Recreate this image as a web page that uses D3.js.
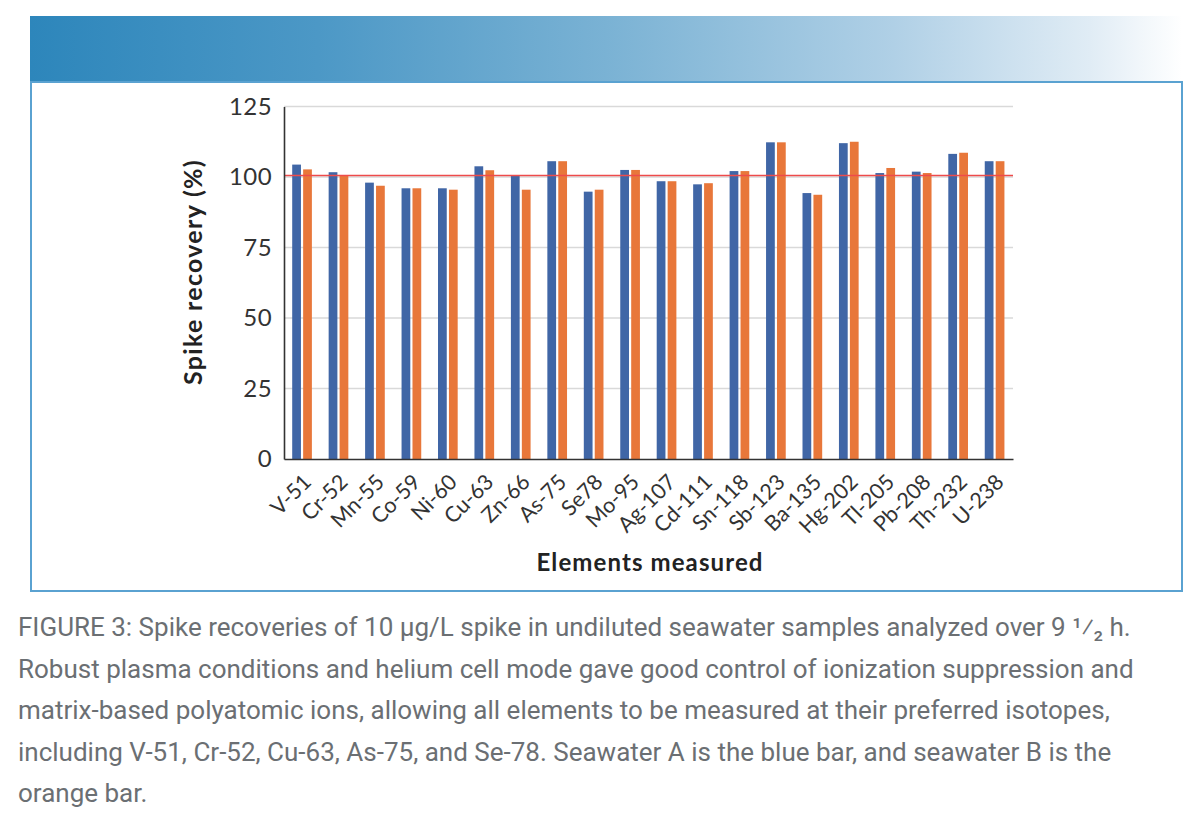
<!DOCTYPE html>
<html>
<head>
<meta charset="utf-8">
<script src="https://cdn.jsdelivr.net/npm/d3@7/dist/d3.min.js"></script>
<style>
  html, body { margin: 0; padding: 0; background: #ffffff; }
  svg { display: block; }
</style>
</head>
<body>
<svg id="chart" width="1200" height="823"></svg>
<script>
// ---------- data ----------
const categories = ["V-51","Cr-52","Mn-55","Co-59","Ni-60","Cu-63","Zn-66","As-75","Se78","Mo-95",
                    "Ag-107","Cd-111","Sn-118","Sb-123","Ba-135","Hg-202","Tl-205","Pb-208","Th-232","U-238"];
const seawaterA = [104.4,101.7,98.0,96.0,96.0,103.8,100.4,105.6,94.8,102.5,
                   98.5,97.4,102.1,112.3,94.3,112.0,101.4,101.9,108.2,105.6];
const seawaterB = [102.7,100.5,96.9,96.0,95.5,102.4,95.5,105.6,95.5,102.5,
                   98.5,97.8,102.1,112.3,93.7,112.5,103.2,101.4,108.6,105.6];
const seriesNames = ["Seawater A","Seawater B"];
const seriesColors = ["#4066a6","#e8773a"];
const yTicks = [0,25,50,75,100,125];
const referenceLine = 100;
const yTitle = "Spike recovery (%)";
const xTitle = "Elements measured";
const captionLines = [
  "FIGURE 3: Spike recoveries of 10 \u00b5g/L spike in undiluted seawater samples analyzed over 9 \u00b9\u2044\u2082 h.",
  "Robust plasma conditions and helium cell mode gave good control of ionization suppression and",
  "matrix-based polyatomic ions, allowing all elements to be measured at their preferred isotopes,",
  "including V-51, Cr-52, Cu-63, As-75, and Se-78. Seawater A is the blue bar, and seawater B is the",
  "orange bar."
];

// ---------- layout ----------
const svg = d3.select("#chart");
const plot = { left: 284, right: 1013, top: 106.5, bottom: 459 };
const chartFont = "Lato, 'Open Sans', sans-serif";

// header gradient band
const defs = svg.append("defs");
const grad = defs.append("linearGradient").attr("id","hdr").attr("x1","0").attr("x2","1").attr("y1","0").attr("y2","0");
grad.append("stop").attr("offset","0").attr("stop-color","#2d86bb");
grad.append("stop").attr("offset","0.25").attr("stop-color","#4c98c6");
grad.append("stop").attr("offset","0.5").attr("stop-color","#7ab2d4");
grad.append("stop").attr("offset","0.75").attr("stop-color","#b0d0e6");
grad.append("stop").attr("offset","0.92").attr("stop-color","#e0ecf5");
grad.append("stop").attr("offset","1").attr("stop-color","#ffffff");
svg.append("rect").attr("x",30).attr("y",16).attr("width",1152).attr("height",66).attr("fill","url(#hdr)");

// chart frame
svg.append("rect").attr("x",31).attr("y",82).attr("width",1151).attr("height",509)
  .attr("fill","none").attr("stroke","#5aa2d1").attr("stroke-width",2);

// ---------- scales ----------
const x0 = d3.scaleBand().domain(categories).range([plot.left, plot.right]).padding(0);
const x1 = d3.scaleBand().domain(seriesNames)
  .range([x0.bandwidth()*0.225, x0.bandwidth()*0.765]).paddingInner(0.2);
const y = d3.scaleLinear().domain([0,125]).range([plot.bottom, plot.top]);

// gridlines
svg.append("g").selectAll("line").data(yTicks.filter(t => t > 0)).join("line")
  .attr("x1", plot.left).attr("x2", plot.right)
  .attr("y1", d => y(d)).attr("y2", d => y(d))
  .attr("stroke","#d9d9d9").attr("stroke-width",1.3);

// bars
const rows = categories.map((c,i) => ({cat:c, vals:[seawaterA[i], seawaterB[i]]}));
const groups = svg.append("g").selectAll("g").data(rows).join("g")
  .attr("transform", d => `translate(${x0(d.cat)},0)`);
groups.selectAll("rect").data(d => d.vals.map((v,j) => ({name:seriesNames[j], v, j}))).join("rect")
  .attr("x", d => x1(d.name))
  .attr("width", x1.bandwidth())
  .attr("y", d => y(d.v))
  .attr("height", d => y(0) - y(d.v))
  .attr("fill", d => seriesColors[d.j]);

// reference line
svg.append("line")
  .attr("x1", plot.left).attr("x2", plot.right)
  .attr("y1", y(referenceLine) - 1.5).attr("y2", y(referenceLine) - 1.5)
  .attr("stroke","#ee4b4b").attr("stroke-width",1.6);

// y axis
const yAxis = svg.append("g").attr("transform",`translate(${plot.left},0)`)
  .call(d3.axisLeft(y).tickValues(yTicks).tickSize(0).tickPadding(12));
yAxis.select(".domain").attr("stroke","#333").attr("stroke-width",1.6);
yAxis.selectAll("text").attr("font-family",chartFont)
  .attr("font-size",24).attr("letter-spacing","0.4px").attr("fill","#333");

// x axis
const xAxis = svg.append("g").attr("transform",`translate(0,${plot.bottom})`)
  .call(d3.axisBottom(x0).tickSize(0).tickPadding(0));
xAxis.select(".domain").attr("stroke","#333").attr("stroke-width",1.6);
xAxis.selectAll("text")
  .attr("font-family",chartFont).attr("font-size",21.5).attr("fill","#333")
  .attr("text-anchor","end")
  .attr("dy","0.35em")
  .attr("transform","translate(5,19) rotate(-45)");

// axis titles
svg.append("text")
  .attr("transform","translate(192,272) rotate(-90)")
  .attr("text-anchor","middle").attr("dominant-baseline","central")
  .attr("font-family",chartFont).attr("font-weight","bold")
  .attr("font-size",25).attr("letter-spacing","1.3px").attr("fill","#222")
  .text(yTitle);
svg.append("text")
  .attr("x",650).attr("y",571)
  .attr("text-anchor","middle")
  .attr("font-family",chartFont).attr("font-weight","bold")
  .attr("font-size",24).attr("letter-spacing","1.1px").attr("fill","#222")
  .text(xTitle);

// caption
svg.append("g").selectAll("text").data(captionLines).join("text")
  .attr("x",18).attr("y",(d,i) => 636 + i*41.5)
  .attr("font-family","Roboto, sans-serif").attr("font-size",26).attr("fill","#6b6f73")
  .text(d => d);
</script>
</body>
</html>
